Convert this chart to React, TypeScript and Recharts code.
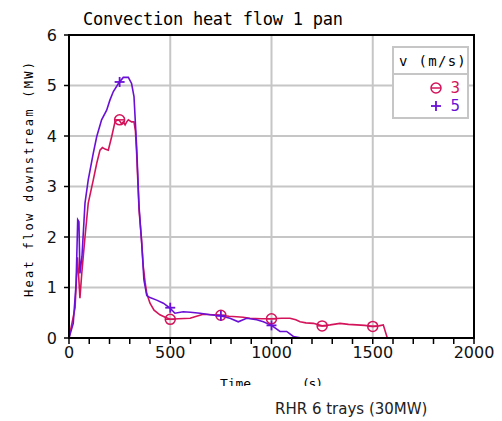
import {
  CartesianGrid,
  ComposedChart,
  Legend,
  Line,
  ReferenceArea,
  Scatter,
  XAxis,
  YAxis,
} from "recharts";

// v = 3 m/s
const redT = [0, 21, 30, 42, 48, 54, 63, 79, 95, 120, 137, 153, 165, 178, 194, 211, 227, 240, 250, 260, 268, 277, 285, 293, 309, 321, 328, 334, 346, 358, 367, 376, 384, 400, 420, 449, 475, 500, 540, 598, 630, 663, 710, 750, 790, 828, 860, 894, 950, 1000, 1050, 1091, 1120, 1141, 1170, 1207, 1250, 1290, 1338, 1380, 1421, 1460, 1500, 1530, 1552, 1562, 1572];
const redV = [0, 0.42, 0.6, 1.6, 1.2, 0.79, 1.28, 2.0, 2.67, 3.13, 3.46, 3.72, 3.77, 3.74, 3.72, 3.99, 4.28, 4.32, 4.3, 4.24, 4.28, 4.22, 4.28, 4.32, 4.28, 4.28, 4.1, 3.66, 2.53, 1.95, 1.41, 1.1, 0.88, 0.69, 0.55, 0.46, 0.41, 0.37, 0.38, 0.39, 0.43, 0.47, 0.46, 0.45, 0.43, 0.42, 0.41, 0.39, 0.38, 0.38, 0.39, 0.39, 0.36, 0.32, 0.3, 0.29, 0.24, 0.26, 0.29, 0.27, 0.26, 0.25, 0.23, 0.24, 0.26, 0.13, 0];

// v = 5 m/s
const purpleT = [0, 21, 35, 43, 49, 54, 64, 79, 95, 120, 137, 161, 186, 202, 219, 244, 268, 293, 309, 321, 334, 346, 359, 370, 384, 400, 433, 466, 499, 523, 564, 600, 647, 697, 746, 795, 836, 877, 927, 960, 1000, 1042, 1075, 1108, 1149];
const purpleV = [0, 0.29, 1.08, 2.34, 2.3, 1.28, 1.61, 2.67, 3.13, 3.66, 3.99, 4.32, 4.51, 4.71, 4.88, 5.04, 5.16, 5.16, 5.04, 4.78, 3.79, 2.6, 1.88, 1.15, 0.84, 0.8, 0.75, 0.69, 0.59, 0.49, 0.52, 0.51, 0.49, 0.46, 0.44, 0.39, 0.32, 0.39, 0.36, 0.32, 0.25, 0.13, 0.13, 0.03, 0];

const redMarkT = [250, 500, 750, 1000, 1250, 1500];
const redMarkV = [4.32, 0.37, 0.45, 0.38, 0.24, 0.23];
const purpleMarkT = [250, 500, 750, 1000];
const purpleMarkV = [5.07, 0.6, 0.44, 0.25];

const xTicks = [0, 100, 200, 300, 400, 500, 600, 700, 800, 900, 1000, 1100, 1200, 1300, 1400, 1500, 1600, 1700, 1800, 1900, 2000];
const xGrid = [0, 500, 1000, 1500, 2000];
const yTicks = [0, 1, 2, 3, 4, 5, 6];

const RED = "#d4145a";
const PURPLE = "#6a10d6";
const GRID = "#c6c6c6";

const zip = (t: number[], v: number[]) => t.map((x, i) => ({ t: x, v: v[i] }));

const redData = zip(redT, redV);
const purpleData = zip(purpleT, purpleV);
const redMarks = zip(redMarkT, redMarkV);
const purpleMarks = zip(purpleMarkT, purpleMarkV);

function CircleMark({ cx, cy }: any) {
  return (
    <g>
      <circle cx={cx} cy={cy} r={5} fill="none" stroke={RED} strokeWidth={1.5} />
      <line x1={cx - 5} x2={cx + 5} y1={cy} y2={cy} stroke={RED} strokeWidth={1.5} />
    </g>
  );
}

function PlusMark({ cx, cy }: any) {
  return (
    <g stroke={PURPLE} strokeWidth={1.8}>
      <line x1={cx - 5} x2={cx + 5} y1={cy} y2={cy} />
      <line x1={cx} x2={cx} y1={cy - 5} y2={cy + 5} />
    </g>
  );
}

const mono = '"DejaVu Sans Mono", monospace';

function LegendRow({ color, mark, label }: { color: string; mark: any; label: string }) {
  return (
    <div style={{ display: "flex", justifyContent: "flex-end", alignItems: "center", height: 18, color }}>
      <svg width={14} height={14} style={{ marginRight: 7 }}>
        {mark}
      </svg>
      <span style={{ lineHeight: "18px" }}>{label}</span>
    </div>
  );
}

function LegendBox() {
  return (
    <div
      style={{
        width: 73,
        height: 69,
        border: `2px solid ${GRID}`,
        background: "#fff",
        fontFamily: mono,
        color: "#000",
      }}
    >
      <div style={{ height: 25, borderBottom: `2px solid ${GRID}`, fontSize: 14, lineHeight: "26px", paddingLeft: 5, letterSpacing: 1.3, whiteSpace: "nowrap" }}>
        v (m/s)
      </div>
      <div style={{ paddingRight: 7, paddingTop: 4, fontFamily: '"DejaVu Sans", sans-serif', fontSize: 15 }}>
        <LegendRow color={RED} mark={<CircleMark cx={7} cy={7} />} label="3" />
        <LegendRow color={PURPLE} mark={<PlusMark cx={7} cy={7} />} label="5" />
      </div>
    </div>
  );
}

export default function App() {
  return (
    <div style={{ position: "absolute", left: 0, top: 0, width: 502, height: 421, background: "#fff" }}>
      <ComposedChart width={502} height={421} margin={{ top: 35, right: 28, bottom: 53, left: 29 }}>
        <CartesianGrid stroke={GRID} strokeWidth={2} verticalValues={xGrid} />
        <XAxis
          dataKey="t"
          type="number"
          domain={[0, 2000]}
          ticks={xTicks}
          interval={0}
          height={30}
          tickFormatter={(v) => (v % 500 === 0 ? String(v) : "")}
          tickSize={6}
          tickMargin={3}
          axisLine={{ stroke: "#000", strokeWidth: 2 }}
          tickLine={{ stroke: "#000", strokeWidth: 1.5 }}
          tick={{ fill: "#111", fontSize: 16, fontFamily: '"DejaVu Sans", sans-serif' }}
        />
        <YAxis
          type="number"
          domain={[0, 6]}
          ticks={yTicks}
          interval={0}
          width={40}
          tickSize={5}
          tickMargin={7}
          axisLine={{ stroke: "#000", strokeWidth: 2 }}
          tickLine={{ stroke: "#000", strokeWidth: 1.5 }}
          tick={{ fill: "#111", fontSize: 16, fontFamily: '"DejaVu Sans", sans-serif' }}
        />
        <ReferenceArea x1={0} x2={2000} y1={0} y2={6} fill="none" stroke="#000" strokeWidth={2} />
        <Line data={redData} dataKey="v" type="linear" stroke={RED} strokeWidth={1.6} dot={false} isAnimationActive={false} />
        <Line data={purpleData} dataKey="v" type="linear" stroke={PURPLE} strokeWidth={1.6} dot={false} isAnimationActive={false} />
        <Scatter data={redMarks} dataKey="v" shape={CircleMark} isAnimationActive={false} />
        <Scatter data={purpleMarks} dataKey="v" shape={PlusMark} isAnimationActive={false} />
        <Legend
          layout="vertical"
          align="center"
          verticalAlign="middle"
          wrapperStyle={{ top: 46, left: 392, width: 77 }}
          content={() => <LegendBox />}
        />
      </ComposedChart>
      <svg width={502} height={421} style={{ position: "absolute", left: 0, top: 0, pointerEvents: "none" }}>
        <defs>
          <clipPath id="cutTime">
            <rect x={0} y={370} width={502} height={16} />
          </clipPath>
        </defs>
        <text x={83} y={25} fontFamily={mono} fontSize={17} textLength={260} lengthAdjust="spacing" fill="#000">
          Convection heat flow 1 pan
        </text>
        <text
          transform="translate(32.5 297) rotate(-90)"
          fontFamily={mono}
          fontSize={12}
          textLength={235}
          lengthAdjust="spacing"
          fill="#000"
        >
          Heat flow downstream (MW)
        </text>
        <g clipPath="url(#cutTime)" fontFamily={mono} fontSize={13} fill="#000">
          <text x={220} y={388} textLength={31} lengthAdjust="spacing">Time</text>
          <text x={302} y={388} textLength={21} lengthAdjust="spacing">(s)</text>
        </g>
        <text x={275} y={414} fontFamily='"DejaVu Sans", sans-serif' fontSize={15} fill="#222">
          RHR 6 trays (30MW)
        </text>
      </svg>
    </div>
  );
}
